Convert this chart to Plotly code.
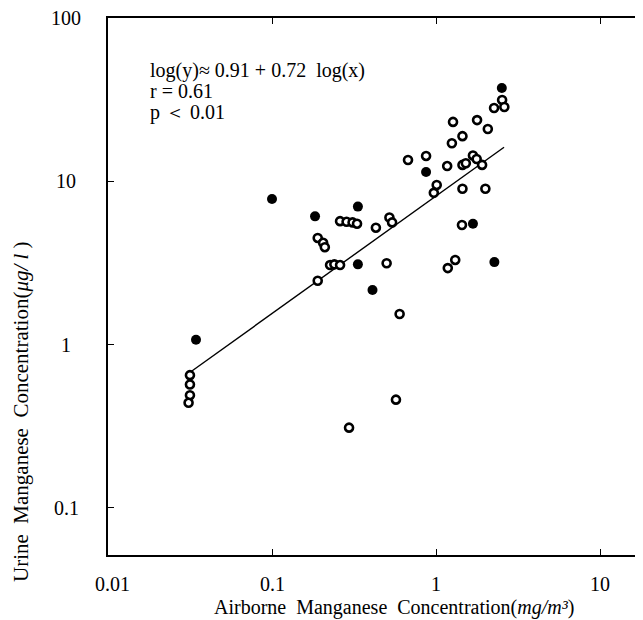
import numpy as np
import plotly.graph_objects as go

# ---- data ----
x_open = [0.0316, 0.0316, 0.0316, 0.031,
          0.19, 0.19, 0.205, 0.21,
          0.226, 0.24, 0.26,
          0.26, 0.285, 0.31, 0.33,
          0.43, 0.52, 0.54,
          0.50, 0.60, 0.57, 0.295,
          0.675, 0.87, 1.17, 1.45, 1.52,
          1.68, 1.77, 1.91,
          1.01, 0.97, 1.45, 2.0,
          1.44, 1.18, 1.31,
          1.27, 1.78, 2.07, 1.25, 1.45,
          2.26, 2.53, 2.61]
y_open = [0.65, 0.57, 0.49, 0.44,
          2.46, 4.5, 4.2, 3.95,
          3.07, 3.1, 3.07,
          5.7, 5.65, 5.6, 5.5,
          5.2, 6.0, 5.6,
          3.15, 1.54, 0.46, 0.31,
          13.5, 14.3, 12.4, 12.6, 12.9,
          14.4, 13.7, 12.6,
          9.5, 8.5, 9.0, 9.0,
          5.4, 2.94, 3.3,
          23.1, 23.7, 20.9, 17.1, 18.9,
          28.1, 31.5, 28.5]

x_filled = [0.0344, 0.1, 0.183, 0.334, 0.334, 0.41, 0.87, 2.52, 1.68, 2.27]
y_filled = [1.07, 7.8, 6.1, 7.0, 3.1, 2.16, 11.4, 37.3, 5.5, 3.2]

fit_intercept = 0.91
fit_slope = 0.72
fit_x_range = [0.032, 2.6]

x_ticks = [0.01, 0.1, 1, 10]
x_tick_labels = ["0.01", "0.1", "1", "10"]
y_ticks = [0.1, 1, 10, 100]
y_tick_labels = ["0.1", "1", "10", "100"]

eq_lines = ["log(y)\u2248 0.91 + 0.72\u00a0\u00a0log(x)", "r = 0.61", "p \uff1c 0.01"]

# ---- figure ----
# page body has an 8 px margin: figure is drawn at window offset (8, 8)
OFF = 8
FONT = "Liberation Serif"
W, H = 643 - OFF, 620 - OFF
ML, MR, MT, MB = 108 - OFF, 0, 18 - OFF, 620 - 555
pw = W - ML - MR
ph = H - MT - MB

def px_x(wx):   # window pixel x -> paper x
    return (wx - OFF - ML) / pw

def px_y(wy):   # window pixel y -> paper y
    return (H - MB - (wy - OFF)) / ph

fx = np.logspace(np.log10(fit_x_range[0]), np.log10(fit_x_range[1]), 50)
fy = 10 ** (fit_intercept + fit_slope * np.log10(fx))

fig = go.Figure()
fig.add_trace(go.Scatter(x=fx, y=fy, mode="lines",
                         line=dict(color="black", width=1.4), showlegend=False,
                         hoverinfo="skip"))
fig.add_trace(go.Scatter(x=x_open, y=y_open, mode="markers",
                         marker=dict(symbol="circle", size=8, color="white",
                                     line=dict(color="black", width=2.6)),
                         showlegend=False))
fig.add_trace(go.Scatter(x=x_filled, y=y_filled, mode="markers",
                         marker=dict(symbol="circle", size=10, color="black",
                                     line=dict(color="black", width=0)),
                         showlegend=False))
# invisible trace on right axis to draw right-side ticks
fig.add_trace(go.Scatter(x=[None], y=[None], yaxis="y2", showlegend=False))

xr = [-2, -2 + pw / 164.0]
yr = [2 - ph / 163.3, 2]

fig.update_layout(
    width=W, height=H,
    margin=dict(l=ML, r=MR, t=MT, b=MB),
    paper_bgcolor="white", plot_bgcolor="white",
    font=dict(family=FONT, color="black"),
    xaxis=dict(type="log", range=xr, tickvals=x_ticks, showticklabels=False,
               ticks="inside", ticklen=6, tickcolor="black", tickwidth=1,
               showline=True, linecolor="black", linewidth=1.5, mirror="ticks",
               showgrid=False, zeroline=False),
    yaxis=dict(type="log", range=yr, tickvals=y_ticks, showticklabels=False,
               ticks="inside", ticklen=6, tickcolor="black", tickwidth=1,
               showline=True, linecolor="black", linewidth=1.5,
               showgrid=False, zeroline=False),
    yaxis2=dict(type="log", range=yr, tickvals=y_ticks, showticklabels=False,
                overlaying="y", side="right", ticks="inside", ticklen=6,
                tickcolor="black", tickwidth=1.5, showline=False, showgrid=False,
                zeroline=False),
)

ann = []
for v, t in zip(x_ticks, x_tick_labels):
    ann.append(dict(x=np.log10(v), y=px_y(584), xref="x", yref="paper",
                    text=t, showarrow=False, xanchor="center", yanchor="middle",
                    xshift=4 if v == x_ticks[0] else 0,
                    font=dict(family=FONT, size=20, color="black")))
for v, t in zip(y_ticks, y_tick_labels):
    ann.append(dict(x=px_x(66), y=np.log10(v), xref="paper", yref="y",
                    text=t, showarrow=False, xanchor="center", yanchor="middle",
                    font=dict(family=FONT, size=20, color="black")))
# axis titles
ann.append(dict(x=px_x(394), y=px_y(607), xref="paper", yref="paper",
                text="Airborne\u00a0\u00a0Manganese\u00a0\u00a0Concentration(<i>mg/m\u00b3</i>)",
                showarrow=False, xanchor="center", yanchor="middle",
                font=dict(family=FONT, size=20, color="black")))
ann.append(dict(x=px_x(21), y=px_y(412), xref="paper", yref="paper",
                text="Urine\u00a0\u00a0Manganese\u00a0\u00a0Concentration(<i>\u03bcg/\u00a0l</i>\u00a0)",
                showarrow=False, xanchor="center", yanchor="middle", textangle=-90,
                font=dict(family=FONT, size=21, color="black")))
# regression text
for i, line in enumerate(eq_lines):
    ann.append(dict(x=px_x(148), y=px_y(70 + 21 * i), xref="paper", yref="paper",
                    text=line, showarrow=False, xanchor="left", yanchor="middle",
                    font=dict(family=FONT, size=20, color="black")))
fig.update_layout(annotations=ann)

fig.write_html("out.html")
